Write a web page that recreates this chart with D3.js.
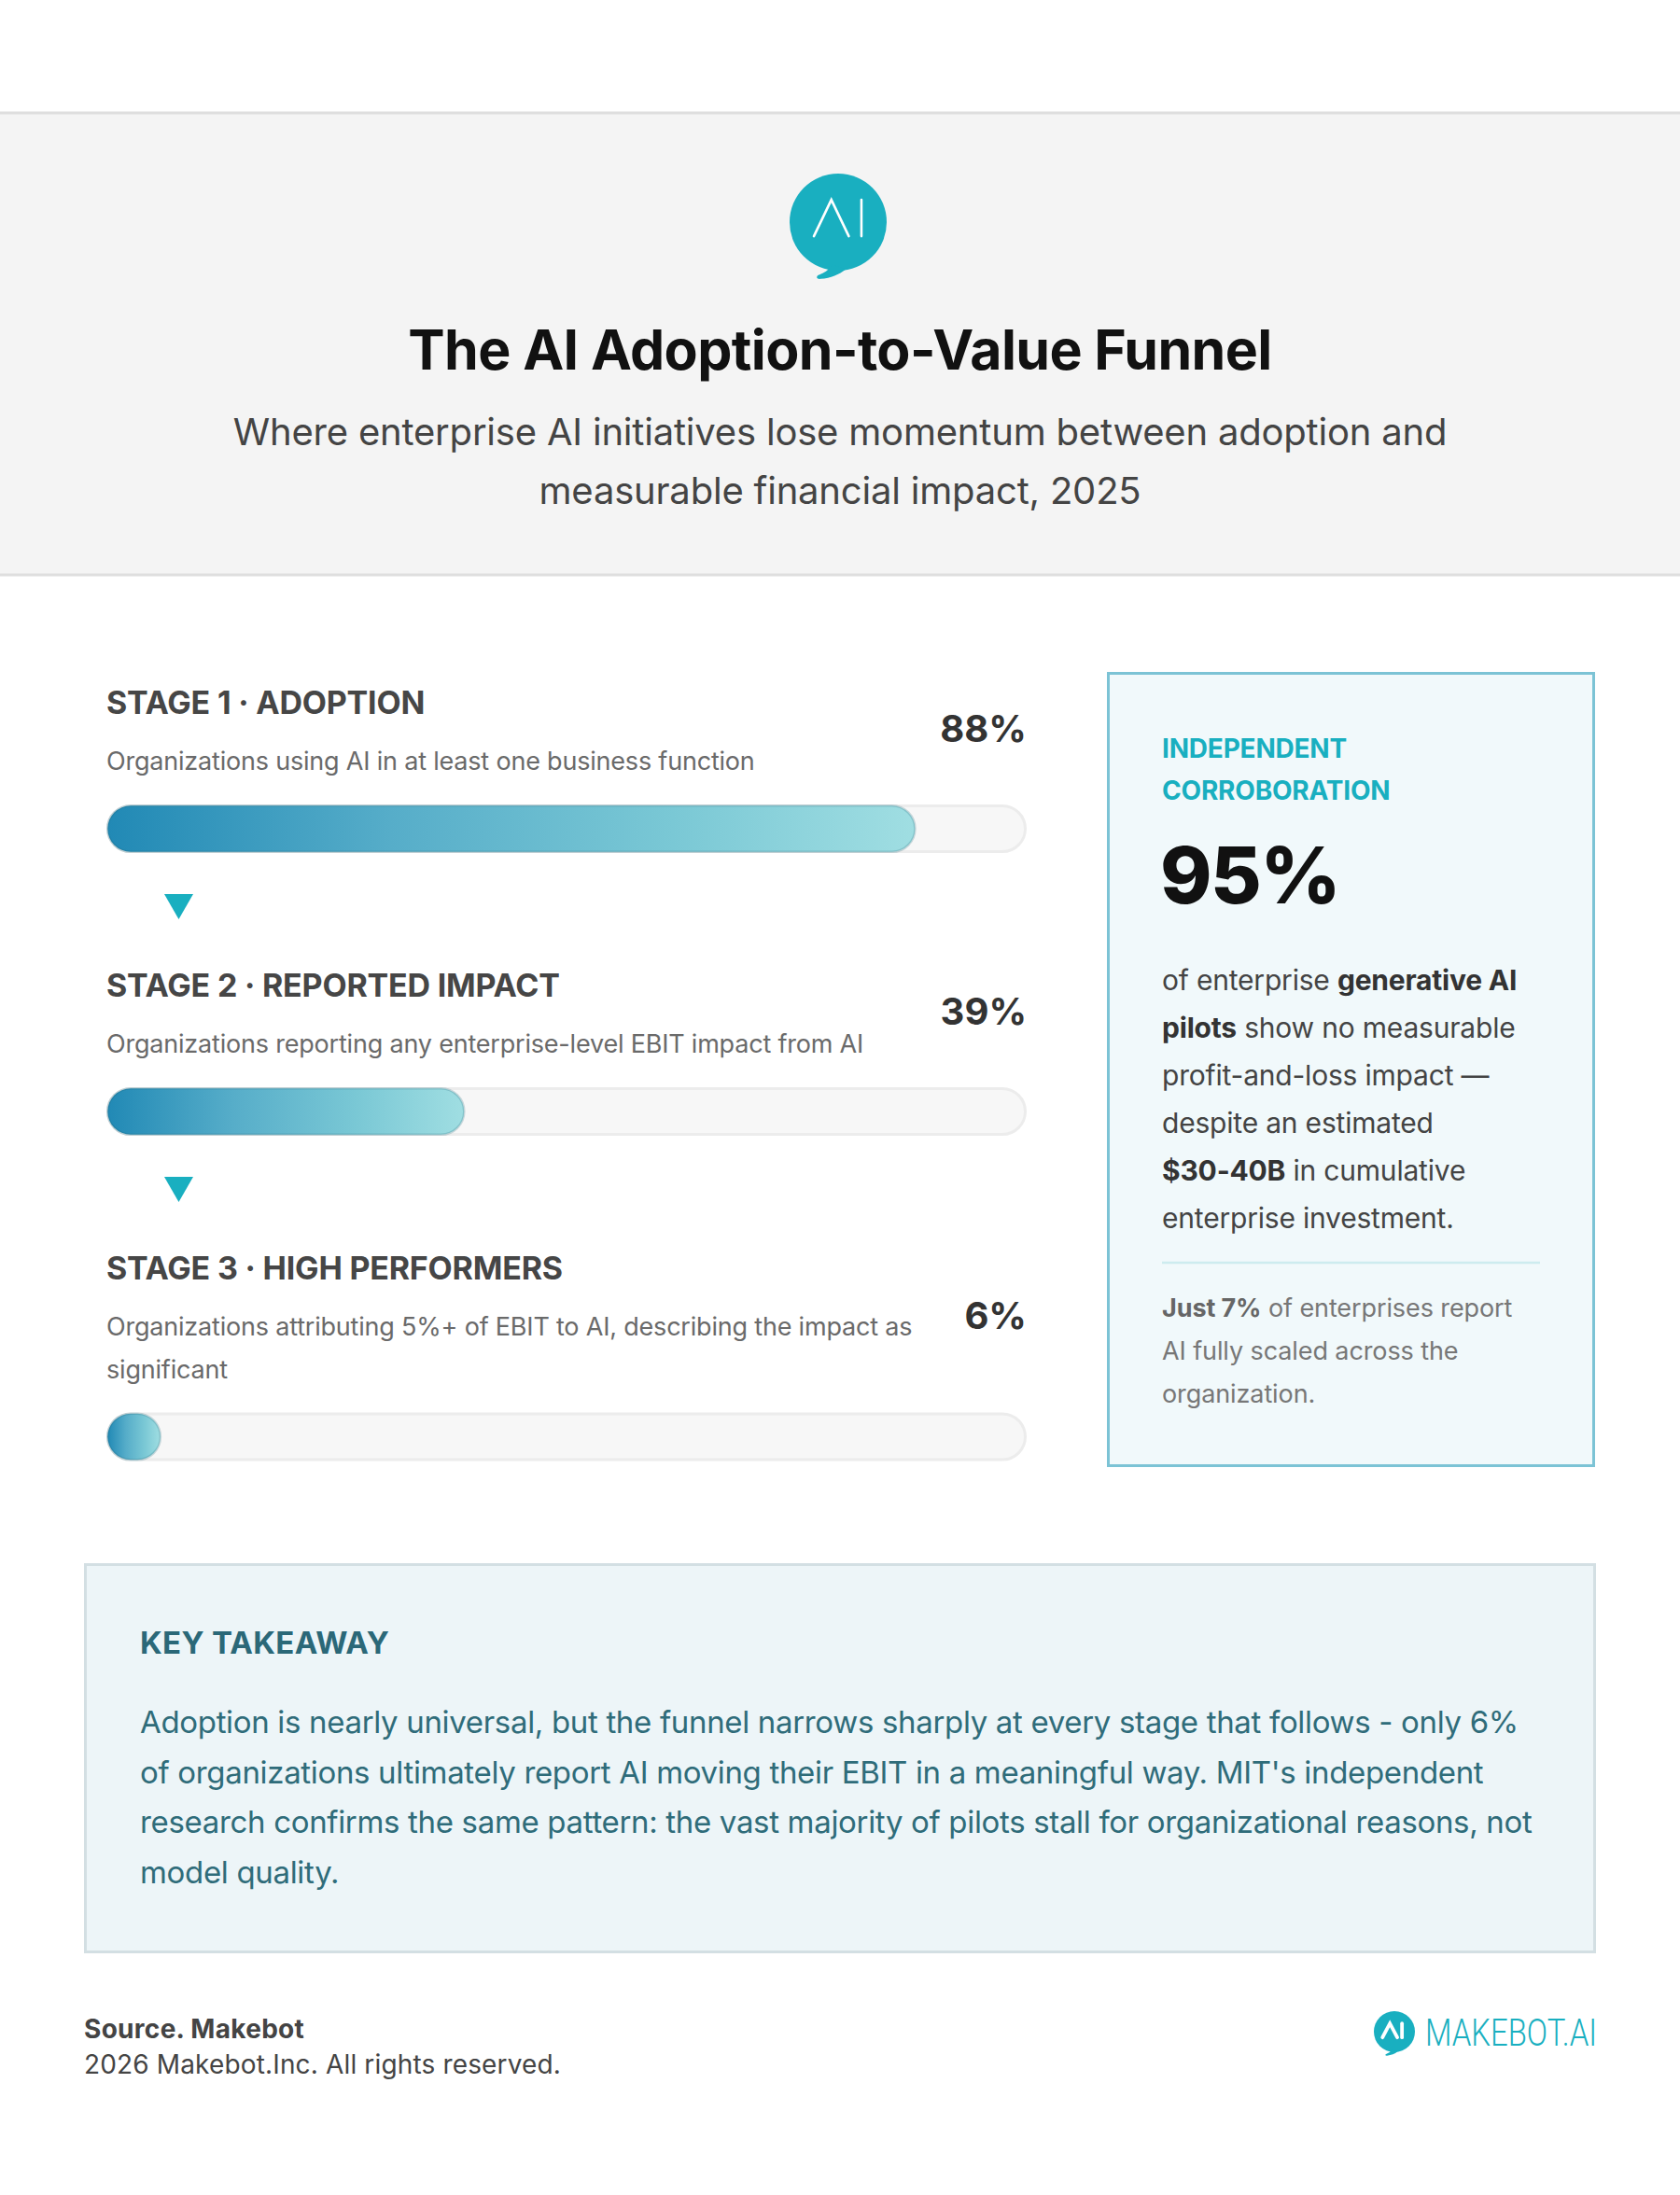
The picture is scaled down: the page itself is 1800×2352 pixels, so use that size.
<!DOCTYPE html>
<html>
<head>
<meta charset="utf-8">
<script src="https://cdn.jsdelivr.net/npm/d3@7"></script>
<style>
  html, body { margin: 0; padding: 0; background: #fff; }
  svg { display: block; font-family: Inter, "Noto Sans", sans-serif; }
</style>
</head>
<body>
<div id="chart"></div>
<script>
const WIDTH = 1800
const HEIGHT = 2352

// funnel data
const stageLabels = ['STAGE 1 · ADOPTION', 'STAGE 2 · REPORTED IMPACT', 'STAGE 3 · HIGH PERFORMERS']
const stageDescriptions = [
  ['Organizations using AI in at least one business function'],
  ['Organizations reporting any enterprise-level EBIT impact from AI'],
  ['Organizations attributing 5%+ of EBIT to AI, describing the impact as', 'significant']
]
const stageValues = [88, 39, 6]

const titleText = 'The AI Adoption-to-Value Funnel'
const subtitleLines = [
  'Where enterprise AI initiatives lose momentum between adoption and',
  'measurable financial impact, 2025'
]

// side panel
const sideLabel = ['INDEPENDENT', 'CORROBORATION']
const sideValue = 95
const sideBody = [
  [['of enterprise ', false], ['generative AI', true]],
  [['pilots', true], [' show no measurable', false]],
  [['profit-and-loss impact —', false]],
  [['despite an estimated', false]],
  [['$30-40B', true], [' in cumulative', false]],
  [['enterprise investment.', false]]
]
const sideNote = [
  [['Just 7%', true], [' of enterprises report', false]],
  [['AI fully scaled across the', false]],
  [['organization.', false]]
]

const takeawayTitle = 'KEY TAKEAWAY'
const takeawayLines = [
  'Adoption is nearly universal, but the funnel narrows sharply at every stage that follows - only 6%',
  "of organizations ultimately report AI moving their EBIT in a meaningful way. MIT's independent",
  'research confirms the same pattern: the vast majority of pilots stall for organizational reasons, not',
  'model quality.'
]

const sourceText = 'Source. Makebot'
const copyrightText = '2026 Makebot.Inc. All rights reserved.'
const brandText = 'MAKEBOT.AI'

const TEAL = '#19afc0'

const svg = d3.select('#chart').append('svg')
  .attr('xmlns', 'http://www.w3.org/2000/svg')
  .attr('width', WIDTH)
  .attr('height', HEIGHT)

const defs = svg.append('defs')

svg.append('rect').attr('width', WIDTH).attr('height', HEIGHT).attr('fill', '#fff')

// header band
svg.append('rect').attr('x', 0).attr('y', 120).attr('width', WIDTH).attr('height', 496).attr('fill', '#f4f4f4')
svg.append('line').attr('x1', 0).attr('x2', WIDTH).attr('y1', 121).attr('y2', 121).attr('stroke', '#dedede').attr('stroke-width', 3)
svg.append('line').attr('x1', 0).attr('x2', WIDTH).attr('y1', 616).attr('y2', 616).attr('stroke', '#dedede').attr('stroke-width', 3)

const drawLogo = (g, cx, cy, r, glyph) => {
  const p = (x, y) => [cx + x * r, cy + y * r]
  g.append('circle').attr('cx', cx).attr('cy', cy).attr('r', r).attr('fill', TEAL)
  const tail = d3.path()
  tail.moveTo(...p(-0.12, 0.88))
  tail.bezierCurveTo(...p(-0.2, 1.0), ...p(-0.3, 1.05), ...p(-0.38, 1.08))
  tail.bezierCurveTo(...p(-0.47, 1.11), ...p(-0.45, 1.18), ...p(-0.36, 1.17))
  tail.bezierCurveTo(...p(-0.15, 1.15), ...p(0.02, 1.08), ...p(0.16, 0.97))
  tail.closePath()
  g.append('path').attr('d', tail.toString()).attr('fill', TEAL)
  const line = d3.line()
  g.append('path')
    .attr('d', line([p(glyph.ax0, glyph.y1), p(glyph.ax1, glyph.y0), p(glyph.ax2, glyph.y1)]))
    .attr('fill', 'none').attr('stroke', '#fff').attr('stroke-width', glyph.w)
    .attr('stroke-linecap', 'round').attr('stroke-linejoin', 'miter')
  g.append('path')
    .attr('d', line([p(glyph.ix, glyph.y0), p(glyph.ix, glyph.y1)]))
    .attr('fill', 'none').attr('stroke', '#fff').attr('stroke-width', glyph.w).attr('stroke-linecap', 'round')
}

drawLogo(svg.append('g'), 898, 238, 52, { ax0: -0.5, ax1: -0.14, ax2: 0.22, ix: 0.48, y0: -0.46, y1: 0.29, w: 2.6 })

svg.append('text')
  .attr('x', WIDTH / 2).attr('y', 396)
  .attr('text-anchor', 'middle')
  .attr('font-size', 59).attr('font-weight', 700).attr('fill', '#111')
  .attr('letter-spacing', -0.6)
  .text(titleText)

svg.append('g').selectAll('text')
  .data(subtitleLines)
  .join('text')
  .attr('x', WIDTH / 2)
  .attr('y', (d, i) => 477 + i * 63)
  .attr('text-anchor', 'middle')
  .attr('font-size', 40).attr('fill', '#444')
  .attr('letter-spacing', -0.2)
  .text(d => d)

// funnel stages
const x = d3.scaleLinear().domain([0, 100]).range([114, 1100])
const BAR_H = 52
const DESC_LH = 45.5

const grad = defs.append('linearGradient').attr('id', 'barGrad')
  .attr('x1', '0%').attr('x2', '100%').attr('y1', '0%').attr('y2', '0%')
grad.selectAll('stop')
  .data([['0%', '#2189b5'], ['35%', '#56adc9'], ['70%', '#7ac8d5'], ['100%', '#a0dee2']])
  .join('stop')
  .attr('offset', d => d[0]).attr('stop-color', d => d[1])

let y0 = 765
const stages = stageLabels.map((label, i) => {
  const lines = stageDescriptions[i]
  const descBase = y0 + 60
  const barTop = descBase + (lines.length - 1) * DESC_LH + 37
  const s = { label, lines, value: stageValues[i], head: y0, descBase, barTop }
  y0 = barTop + BAR_H + 154
  return s
})

const stageG = svg.append('g').selectAll('g')
  .data(stages)
  .join('g')

stageG.append('text')
  .attr('x', x(0)).attr('y', d => d.head)
  .attr('font-size', 34).attr('font-weight', 700).attr('fill', '#464646')
  .attr('letter-spacing', -0.2)
  .text(d => d.label)

stageG.each(function (d) {
  d3.select(this).selectAll('text.desc')
    .data(d.lines)
    .join('text')
    .attr('class', 'desc')
    .attr('x', x(0))
    .attr('y', (t, j) => d.descBase + j * DESC_LH)
    .attr('font-size', 27).attr('fill', '#6a6a6a')
    .attr('letter-spacing', -0.2)
    .text(t => t)
})

stageG.append('text')
  .attr('x', x(100)).attr('text-anchor', 'end')
  .attr('y', d => ((d.head - 25) + (d.descBase + (d.lines.length - 1) * DESC_LH + 7)) / 2 - 6 + 15)
  .attr('font-size', 40).attr('font-weight', 700).attr('fill', '#333')
  .text(d => d.value + '%')

// track
stageG.append('rect')
  .attr('x', x(0) + 1.5).attr('y', d => d.barTop + 1.5)
  .attr('width', x(100) - x(0) - 3).attr('height', BAR_H - 3)
  .attr('rx', (BAR_H - 3) / 2)
  .attr('fill', '#f7f7f7').attr('stroke', '#ececec').attr('stroke-width', 3)

// filled part
stageG.append('rect')
  .attr('x', x(0) + 1.25).attr('y', d => d.barTop + 1.25)
  .attr('width', d => x(d.value) - x(0) - 2.5).attr('height', BAR_H - 2.5)
  .attr('rx', (BAR_H - 2.5) / 2)
  .attr('fill', 'url(#barGrad)')
  .attr('stroke', 'rgba(30,100,120,0.22)').attr('stroke-width', 2.5)

// arrows between stages
svg.append('g').selectAll('path')
  .data(stages.slice(0, -1))
  .join('path')
  .attr('d', d => {
    const top = d.barTop + BAR_H + 44
    return `M${x(0) + 62},${top} L${x(0) + 93},${top} L${x(0) + 77.5},${top + 27} Z`
  })
  .attr('fill', TEAL)

// side panel
const panel = svg.append('g')
panel.append('rect')
  .attr('x', 1187.5).attr('y', 721.5).attr('width', 520).attr('height', 849)
  .attr('fill', '#f1f9fb').attr('stroke', '#7cc3d5').attr('stroke-width', 3)

panel.selectAll('text.lab')
  .data(sideLabel)
  .join('text')
  .attr('class', 'lab')
  .attr('x', 1245).attr('y', (d, i) => 812 + i * 45)
  .attr('font-size', 28).attr('font-weight', 700).attr('fill', TEAL)
  .attr('letter-spacing', -0.2)
  .text(d => d)

panel.append('text')
  .attr('x', 1243).attr('y', 968)
  .attr('font-size', 84).attr('font-weight', 800).attr('fill', '#111')
  .attr('letter-spacing', -1.5)
  .text(sideValue + '%')

const richLines = (g, lines, opts) => {
  g.selectAll(null)
    .data(lines)
    .join('text')
    .attr('x', opts.x)
    .attr('y', (d, i) => opts.y + i * opts.lh)
    .attr('font-size', opts.size).attr('fill', opts.color)
    .attr('letter-spacing', opts.ls)
    .selectAll('tspan')
    .data(d => d)
    .join('tspan')
    .attr('font-weight', d => d[1] ? 700 : 400)
    .attr('fill', d => d[1] ? opts.bold : opts.color)
    .text(d => d[0])
}

richLines(panel.append('g'), sideBody, { x: 1245, y: 1061, lh: 51, size: 30, color: '#444', bold: '#333', ls: -0.2 })

panel.append('line')
  .attr('x1', 1245).attr('x2', 1650).attr('y1', 1353).attr('y2', 1353)
  .attr('stroke', '#cdecef').attr('stroke-width', 2.5)

richLines(panel.append('g'), sideNote, { x: 1245, y: 1411, lh: 46, size: 27, color: '#777', bold: '#666', ls: -0.1 })

// key takeaway box
const box = svg.append('g')
box.append('rect')
  .attr('x', 91.5).attr('y', 1676.5).attr('width', 1617).attr('height', 415)
  .attr('fill', '#edf5f8').attr('stroke', '#d3dfe3').attr('stroke-width', 3)

box.append('text')
  .attr('x', 150).attr('y', 1772)
  .attr('font-size', 33).attr('font-weight', 700).attr('fill', '#2b6878')
  .attr('letter-spacing', 0.3)
  .text(takeawayTitle)

box.selectAll('text.body')
  .data(takeawayLines)
  .join('text')
  .attr('class', 'body')
  .attr('x', 150).attr('y', (d, i) => 1857 + i * 53.5)
  .attr('font-size', 33).attr('fill', '#2f6c7a')
  .attr('letter-spacing', -0.33)
  .text(d => d)

// footer
svg.append('text')
  .attr('x', 90).attr('y', 2184)
  .attr('font-size', 28).attr('font-weight', 700).attr('fill', '#444')
  .attr('letter-spacing', 0.3)
  .text(sourceText)

svg.append('text')
  .attr('x', 90).attr('y', 2222)
  .attr('font-size', 28).attr('fill', '#444')
  .attr('letter-spacing', 0.15)
  .text(copyrightText)

drawLogo(svg.append('g'), 1494, 2177, 22, { ax0: -0.58, ax1: -0.22, ax2: 0.14, ix: 0.37, y0: -0.4, y1: 0.28, w: 3.8 })

svg.append('text')
  .attr('x', 1527).attr('y', 2192)
  .attr('font-family', 'Roboto, sans-serif')
  .attr('font-size', 41).attr('font-weight', 300).attr('fill', TEAL)
  .attr('textLength', 184).attr('lengthAdjust', 'spacingAndGlyphs')
  .text(brandText)
</script>
</body>
</html>
